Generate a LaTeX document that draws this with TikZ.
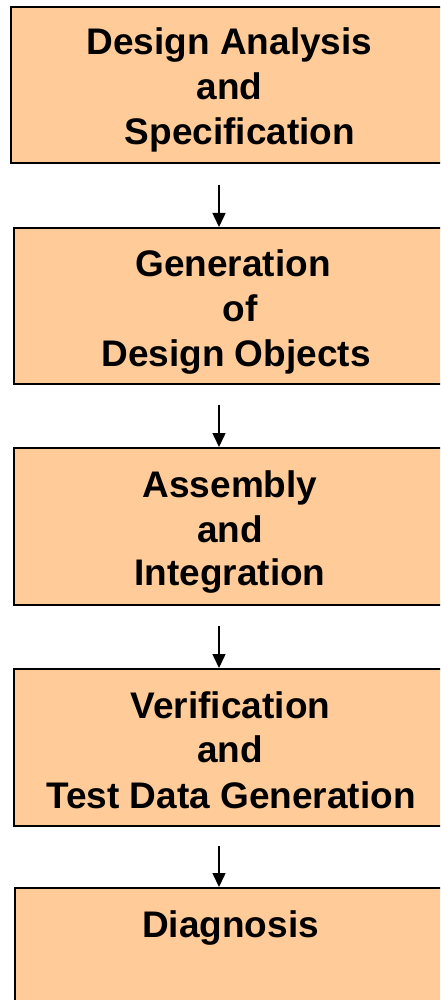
\documentclass[tikz,border=0pt]{standalone}
\usepackage{fontspec}
\newfontfamily\boxfont{Liberation Sans Bold}
\usetikzlibrary{arrows.meta}
\definecolor{boxfill}{HTML}{FFCC99}
\begin{document}
\begin{tikzpicture}[x=1pt,y=-1pt,
  stage/.style={draw=black, line width=2pt, fill=boxfill, inner sep=0pt, anchor=north west, minimum height=156pt},
  lbl/.style={font=\boxfont\fontsize{37}{44}\selectfont, anchor=base, inner sep=0pt},
  arr/.style={line width=1.5pt, -{Triangle[width=13pt,length=14pt]}}]
\useasboundingbox (0,0) rectangle (440,1000);
\clip (0,0) rectangle (440,1000);
% boxes
\node[stage, minimum width=450pt] (b1) at (10,6) {};
\node[stage, minimum width=447.5pt] (b2) at (12.5,227) {};
\node[stage, minimum width=447.5pt, minimum height=157pt] (b3) at (12.5,447) {};
\node[stage, minimum width=447pt, minimum height=157pt] (b4) at (13,668) {};
\node[stage, minimum width=446.5pt, minimum height=157pt] (b5) at (13.5,887) {};
% labels
\node[lbl] (t1a) at (229.5,55) {Design Analysis};
\node[lbl] (t1b) at (229.5,100) {and};
\node[lbl] (t1c) at (240,145) {Specification};
\node[lbl] (t2a) at (233,276) {Generation};
\node[lbl] (t2b) at (240,321) {of};
\node[lbl] (t2c) at (236,366) {Design Objects};
\node[lbl] (t3a) at (230,497) {Assembly};
\node[lbl] (t3b) at (230,542) {and};
\node[lbl] (t3c) at (230,585) {Integration};
\node[lbl] (t4a) at (230.5,718) {Verification};
\node[lbl] (t4b) at (230,762) {and};
\node[lbl] (t4c) at (231,808) {Test Data Generation};
\node[lbl] (t5a) at (230.5,937) {Diagnosis};
% connectors
\coordinate (a1) at (219,185);
\coordinate (a2) at (219,405);
\coordinate (a3) at (219,626);
\coordinate (a4) at (219,846);
\draw[arr] (a1) -- (a1 |- b2.north);
\draw[arr] (a2) -- (a2 |- b3.north);
\draw[arr] (a3) -- (a3 |- b4.north);
\draw[arr] (a4) -- (a4 |- b5.north);
\end{tikzpicture}
\end{document}
